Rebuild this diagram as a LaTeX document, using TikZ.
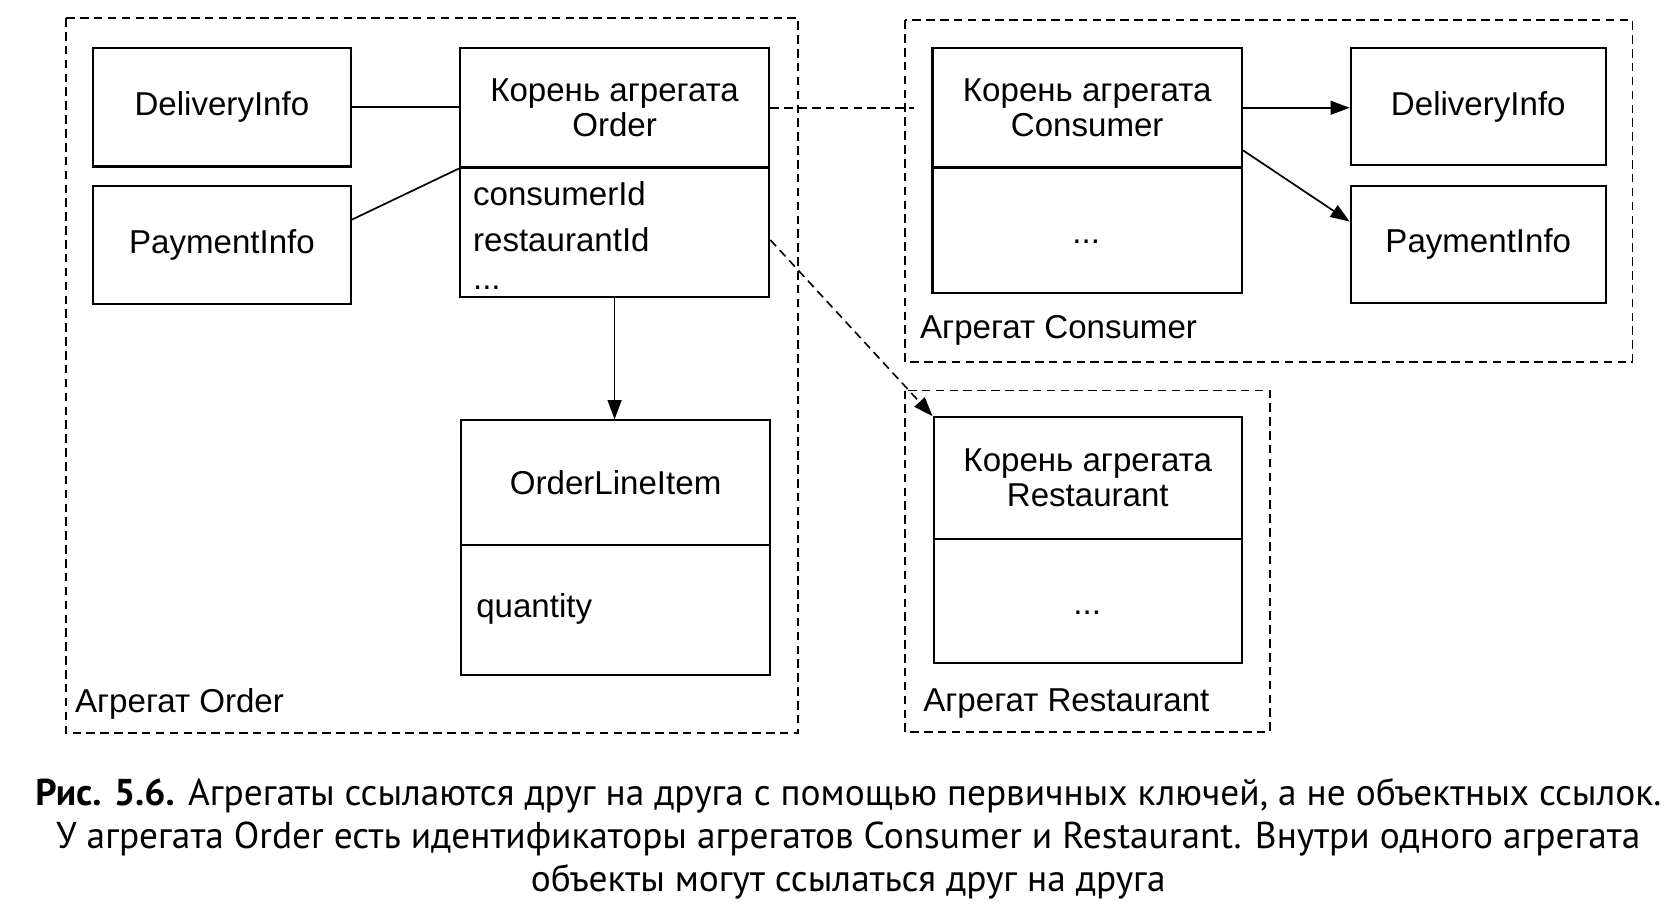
\documentclass[tikz,border=0pt]{standalone}
\usepackage{fontspec}
\setmainfont{Liberation Sans}
\newfontfamily\capfont{PT Sans}
\usetikzlibrary{arrows.meta,calc}
\begin{document}
\begin{tikzpicture}[x=0.5pt,y=-0.5pt,
  box/.style={draw, line width=1pt, inner sep=0pt, align=center,
    font=\fontsize{15.5}{16.5}\selectfont},
  agg/.style={draw, line width=0.75pt, dash pattern=on 4pt off 2.5pt},
  lbl/.style={font=\fontsize{15.5}{17}\selectfont, inner sep=0pt},
  conn/.style={line width=0.8pt},
  dconn/.style={line width=0.75pt, dash pattern=on 4pt off 2.5pt},
  tip/.style={-{Triangle[length=9pt,width=6.5pt]}}
]
\useasboundingbox (0,0) rectangle (1568,861);

% aggregates
\draw[agg] (62,17) rectangle (748,687);
\draw[agg] (848,19) rectangle (1530,339);
\draw[agg] (848,366) rectangle (1190,686);

% Order aggregate
\node[box, minimum width=121pt, minimum height=55.5pt] (dl) at (208,100.5) {DeliveryInfo};
\node[box, minimum width=121pt, minimum height=55.5pt] (pl) at (208,229.5) {PaymentInfo};
\node[box, minimum width=145pt, minimum height=56pt] (oh) at (576,101) {Корень агрегата\\Order};
\node[box, minimum width=145pt, minimum height=60.5pt] (ob) at (576,217.5) {};
\node[lbl, anchor=base west] (a1) at (443,193) {consumerId};
\node[lbl, anchor=base west] (a2) at (443,236) {restaurantId};
\node[lbl, anchor=base west] (a3) at (443,271) {...};
\node[box, minimum width=145pt, minimum height=58.5pt] (lh) at (577,452.5) {OrderLineItem};
\node[box, minimum width=145pt, minimum height=61pt] (lb) at (577,572) {};
\node[lbl, anchor=west] (q) at (446,571) {quantity};
\node[lbl, anchor=west] (aggO) at (70,660) {Агрегат Order};

% Consumer aggregate
\node[box, minimum width=145pt, minimum height=56pt] (ch) at (1019,101) {Корень агрегата\\Consumer};
\node[box, minimum width=145pt, minimum height=59pt] (cb) at (1019,216) {};
\node[lbl, anchor=base] (cd) at (1018,228) {...};
\node[box, minimum width=119.5pt, minimum height=55pt] (dr) at (1385.5,100) {DeliveryInfo};
\node[box, minimum width=119.5pt, minimum height=55pt] (pr) at (1385.5,229) {PaymentInfo};
\node[lbl, anchor=west] (aggC) at (862,310) {Агрегат Consumer};

% Restaurant aggregate
\node[box, minimum width=144.5pt, minimum height=57pt] (rh) at (1019.5,448) {Корень агрегата\\Restaurant};
\node[box, minimum width=144.5pt, minimum height=58pt] (rb) at (1019.5,563) {};
\node[lbl, anchor=base] (rd) at (1019,576) {...};
\node[lbl, anchor=west] (aggR) at (865,659) {Агрегат Restaurant};

% connectors
\draw[conn] (dl.east) -- (dl.east -| oh.west);
\draw[conn] ($(pl.north east)!0.29!(pl.south east)$) -- (oh.south west);
\draw[conn, tip] (ob.south) -- (ob.south |- lh.north);
\draw[dconn, shorten >=8pt] (oh.east) -- (oh.east -| ch.west);
\draw[dconn, tip] ($(ob.north east)!0.56!(ob.south east)$) -- (rh.north west);
\draw[conn, tip] (ch.east) -- (ch.east -| dr.west);
\draw[conn, tip] ($(ch.north east)!0.85!(ch.south east)$) -- ($(pr.north west)!0.31!(pr.south west)$);

% caption
\node[align=center, inner sep=0pt, font=\capfont\fontsize{17.5}{20.3}\selectfont] (cap) at (795,786)
  {\textbf{Рис. 5.6.} Агрегаты ссылаются друг на друга с помощью первичных ключей, а не объектных ссылок.\\
   У агрегата Order есть идентификаторы агрегатов Consumer и Restaurant. Внутри одного агрегата\\
   объекты могут ссылаться друг на друга};
\end{tikzpicture}
\end{document}
